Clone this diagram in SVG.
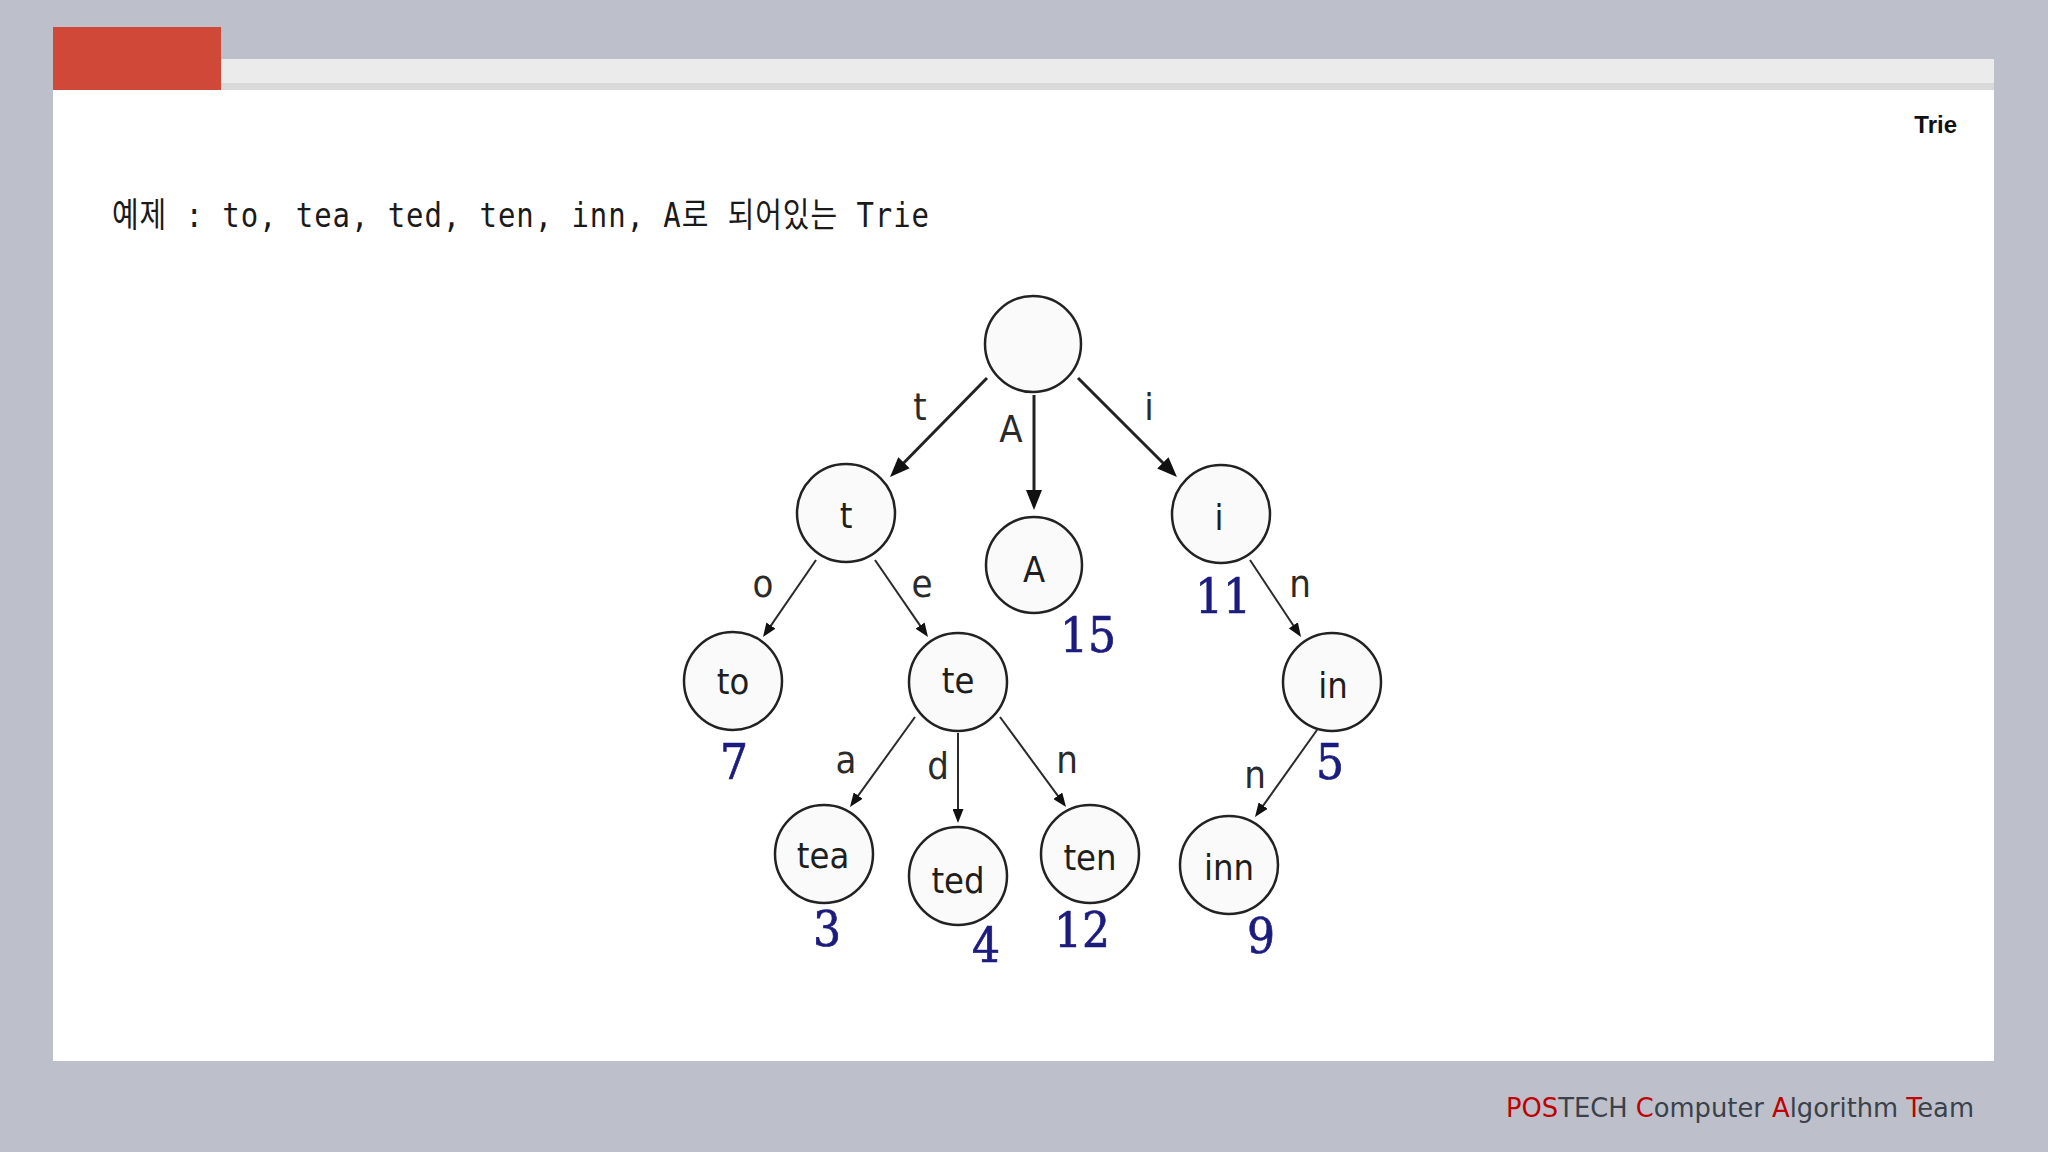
<svg xmlns="http://www.w3.org/2000/svg" width="2048" height="1152" viewBox="0 0 2048 1152">
<defs>
<style>
.node circle{fill:#fafafa;stroke:#222;stroke-width:2.5}
.lbl{font-family:"DejaVu Sans Condensed","DejaVu Sans",sans-serif;font-size:36px;fill:#1e1e1e;text-anchor:middle}
.elbl{font-family:"DejaVu Sans Condensed","DejaVu Sans",sans-serif;font-size:38px;fill:#2a2a2a;text-anchor:middle}
.num{font-family:"DejaVu Serif Condensed","DejaVu Serif",serif;font-size:49px;fill:#1c1c7e;stroke:#1c1c7e;stroke-width:0.7;text-anchor:middle}
.e1{stroke:#222;stroke-width:3;fill:none;marker-end:url(#ab)}
.e2{stroke:#2a2a2a;stroke-width:2;fill:none;marker-end:url(#as)}
</style>
<marker id="ab" viewBox="0 0 20 16" refX="12" refY="8" markerWidth="20" markerHeight="16" markerUnits="userSpaceOnUse" orient="auto"><path d="M0,0 L20,8 L0,16 z" fill="#111"/></marker>
<marker id="as" viewBox="0 0 14 11" refX="8" refY="5.5" markerWidth="14" markerHeight="11" markerUnits="userSpaceOnUse" orient="auto"><path d="M0,0 L14,5.5 L0,11 z" fill="#111"/></marker>
</defs>
<rect x="0" y="0" width="2048" height="1152" fill="#bdc0ca"/>
<g id="panel">
<rect x="53" y="59" width="1941" height="1002" fill="#ffffff"/>
<rect x="220" y="59" width="1774" height="25" fill="#ebebeb"/>
<rect x="220" y="83" width="1774" height="7" fill="#d9d9d9"/>
<rect x="53" y="27" width="168" height="63" fill="#d04838"/>
</g>
<text x="1957" y="133" text-anchor="end" font-family="Liberation Sans, Arial, sans-serif" font-weight="bold" font-size="24" fill="#111">Trie</text>
<text x="112" y="0" transform="translate(0,227) scale(1,1.18)" font-family="DejaVu Sans Mono, Liberation Mono, Noto Sans CJK KR, monospace" font-size="29" fill="#1a1a1a" textLength="817" lengthAdjust="spacing">예제 : to, tea, ted, ten, inn, A로 되어있는 Trie</text>
<g id="connectors">
<line class="e1" x1="987" y1="378" x2="895.6" y2="471.3"/>
<line class="e1" x1="1034" y1="395" x2="1034" y2="502"/>
<line class="e1" x1="1078" y1="378" x2="1171.3" y2="471.3"/>
<line class="e2" x1="816" y1="560" x2="766.4" y2="632.1"/>
<line class="e2" x1="875" y1="560" x2="924.6" y2="632.1"/>
<line class="e2" x1="1250" y1="560" x2="1297.7" y2="632"/>
<line class="e2" x1="915" y1="717" x2="853.5" y2="802.1"/>
<line class="e2" x1="958" y1="733" x2="958" y2="817"/>
<line class="e2" x1="1000" y1="717" x2="1062.5" y2="802.2"/>
<line class="e2" x1="1317" y1="730" x2="1258.5" y2="812.1"/>
<text class="elbl" x="920" y="420">t</text>
<text class="elbl" x="1011" y="442">A</text>
<text class="elbl" x="1149" y="420">i</text>
<text class="elbl" x="763" y="597">o</text>
<text class="elbl" x="922" y="597">e</text>
<text class="elbl" x="1300" y="597">n</text>
<text class="elbl" x="846" y="773">a</text>
<text class="elbl" x="938" y="779">d</text>
<text class="elbl" x="1067" y="773">n</text>
<text class="elbl" x="1255" y="788">n</text>
</g>
<g id="node-root" class="node"><circle cx="1033" cy="344" r="48"/></g>
<g id="node-t" class="node"><circle cx="846" cy="513" r="49"/><text class="lbl" x="846" y="528">t</text></g>
<g id="node-A" class="node"><circle cx="1034" cy="565" r="48"/><text class="lbl" x="1034" y="582">A</text><text class="num" x="1088" y="652">15</text></g>
<g id="node-i" class="node"><circle cx="1221" cy="514" r="49"/><text class="lbl" x="1219" y="530">i</text><text class="num" x="1223" y="613">11</text></g>
<g id="node-to" class="node"><circle cx="733" cy="681" r="49"/><text class="lbl" x="733" y="694">to</text><text class="num" x="734" y="779">7</text></g>
<g id="node-te" class="node"><circle cx="958" cy="682" r="49"/><text class="lbl" x="958" y="693">te</text></g>
<g id="node-in" class="node"><circle cx="1332" cy="682" r="49"/><text class="lbl" x="1333" y="698">in</text><text class="num" x="1330" y="779">5</text></g>
<g id="node-tea" class="node"><circle cx="824" cy="854" r="49"/><text class="lbl" x="823" y="868">tea</text><text class="num" x="827" y="946">3</text></g>
<g id="node-ted" class="node"><circle cx="958" cy="876" r="49"/><text class="lbl" x="958" y="893">ted</text><text class="num" x="986" y="962">4</text></g>
<g id="node-ten" class="node"><circle cx="1090" cy="854" r="49"/><text class="lbl" x="1090" y="870">ten</text><text class="num" x="1082" y="947">12</text></g>
<g id="node-inn" class="node"><circle cx="1229" cy="865" r="49"/><text class="lbl" x="1229" y="880">inn</text><text class="num" x="1261" y="953">9</text></g>
<text x="1506" y="1117" font-family="DejaVu Sans Condensed, DejaVu Sans, sans-serif" font-size="27" fill="#3b404a" textLength="468" lengthAdjust="spacingAndGlyphs"><tspan fill="#c00000">POS</tspan>TECH <tspan fill="#c00000">C</tspan>omputer <tspan fill="#c00000">A</tspan>lgorithm <tspan fill="#c00000">T</tspan>eam</text>
</svg>
